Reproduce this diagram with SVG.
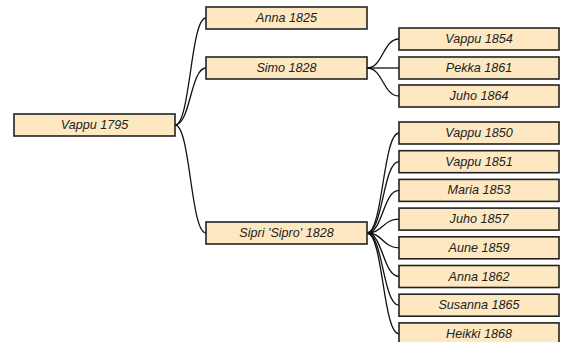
<svg xmlns="http://www.w3.org/2000/svg" width="565" height="342" viewBox="0 0 565 342">
<style>
.box{fill:#fde8c1;stroke:#222;stroke-width:1.6}
.lbl{font-family:"Liberation Sans",Arial,sans-serif;font-style:italic;font-size:12.6px;fill:#222;text-anchor:middle;dominant-baseline:central}
.link{fill:none;stroke:#111;stroke-width:1.3}
</style>
<rect width="565" height="342" fill="#fff"/>
<g id="connectors">
<path class="link" d="M175,125 C190.5,125 190.5,18 206,18"/>
<path class="link" d="M175,125 C190.5,125 190.5,68 206,68"/>
<path class="link" d="M175,125 C190.5,125 190.5,233 206,233"/>
<path class="link" d="M367,68 C383,68 383,39 399,39"/>
<path class="link" d="M367,68 C383,68 383,68 399,68"/>
<path class="link" d="M367,68 C383,68 383,96 399,96"/>
<path class="link" d="M367,233 C383,233 383,133 399,133"/>
<path class="link" d="M367,233 C383,233 383,161.7 399,161.7"/>
<path class="link" d="M367,233 C383,233 383,190.4 399,190.4"/>
<path class="link" d="M367,233 C383,233 383,219.1 399,219.1"/>
<path class="link" d="M367,233 C383,233 383,247.8 399,247.8"/>
<path class="link" d="M367,233 C383,233 383,276.5 399,276.5"/>
<path class="link" d="M367,233 C383,233 383,305.2 399,305.2"/>
<path class="link" d="M367,233 C383,233 383,333.9 399,333.9"/>
</g>
<g id="n-vappu1795"><rect class="box" x="14" y="114" width="161" height="22"/><text class="lbl" x="94.5" y="125">Vappu 1795</text></g>
<g id="n-anna1825"><rect class="box" x="206" y="7" width="161" height="22"/><text class="lbl" x="286.5" y="18">Anna 1825</text></g>
<g id="n-simo1828"><rect class="box" x="206" y="57" width="161" height="22"/><text class="lbl" x="286.5" y="68">Simo 1828</text></g>
<g id="n-sipri1828"><rect class="box" x="206" y="222" width="161" height="22"/><text class="lbl" x="286.5" y="233">Sipri 'Sipro' 1828</text></g>
<g id="n-vappu1854"><rect class="box" x="399" y="28" width="160" height="22"/><text class="lbl" x="479" y="39">Vappu 1854</text></g>
<g id="n-pekka1861"><rect class="box" x="399" y="57" width="160" height="22"/><text class="lbl" x="479" y="68">Pekka 1861</text></g>
<g id="n-juho1864"><rect class="box" x="399" y="85" width="160" height="22"/><text class="lbl" x="479" y="96">Juho 1864</text></g>
<g id="n-vappu1850"><rect class="box" x="399" y="122" width="160" height="22"/><text class="lbl" x="479" y="133">Vappu 1850</text></g>
<g id="n-vappu1851"><rect class="box" x="399" y="150.7" width="160" height="22"/><text class="lbl" x="479" y="161.7">Vappu 1851</text></g>
<g id="n-maria1853"><rect class="box" x="399" y="179.4" width="160" height="22"/><text class="lbl" x="479" y="190.4">Maria 1853</text></g>
<g id="n-juho1857"><rect class="box" x="399" y="208.1" width="160" height="22"/><text class="lbl" x="479" y="219.1">Juho 1857</text></g>
<g id="n-aune1859"><rect class="box" x="399" y="236.8" width="160" height="22"/><text class="lbl" x="479" y="247.8">Aune 1859</text></g>
<g id="n-anna1862"><rect class="box" x="399" y="265.5" width="160" height="22"/><text class="lbl" x="479" y="276.5">Anna 1862</text></g>
<g id="n-susanna1865"><rect class="box" x="399" y="294.2" width="160" height="22"/><text class="lbl" x="479" y="305.2">Susanna 1865</text></g>
<g id="n-heikki1868"><rect class="box" x="399" y="322.9" width="160" height="22"/><text class="lbl" x="479" y="333.9">Heikki 1868</text></g>
</svg>
